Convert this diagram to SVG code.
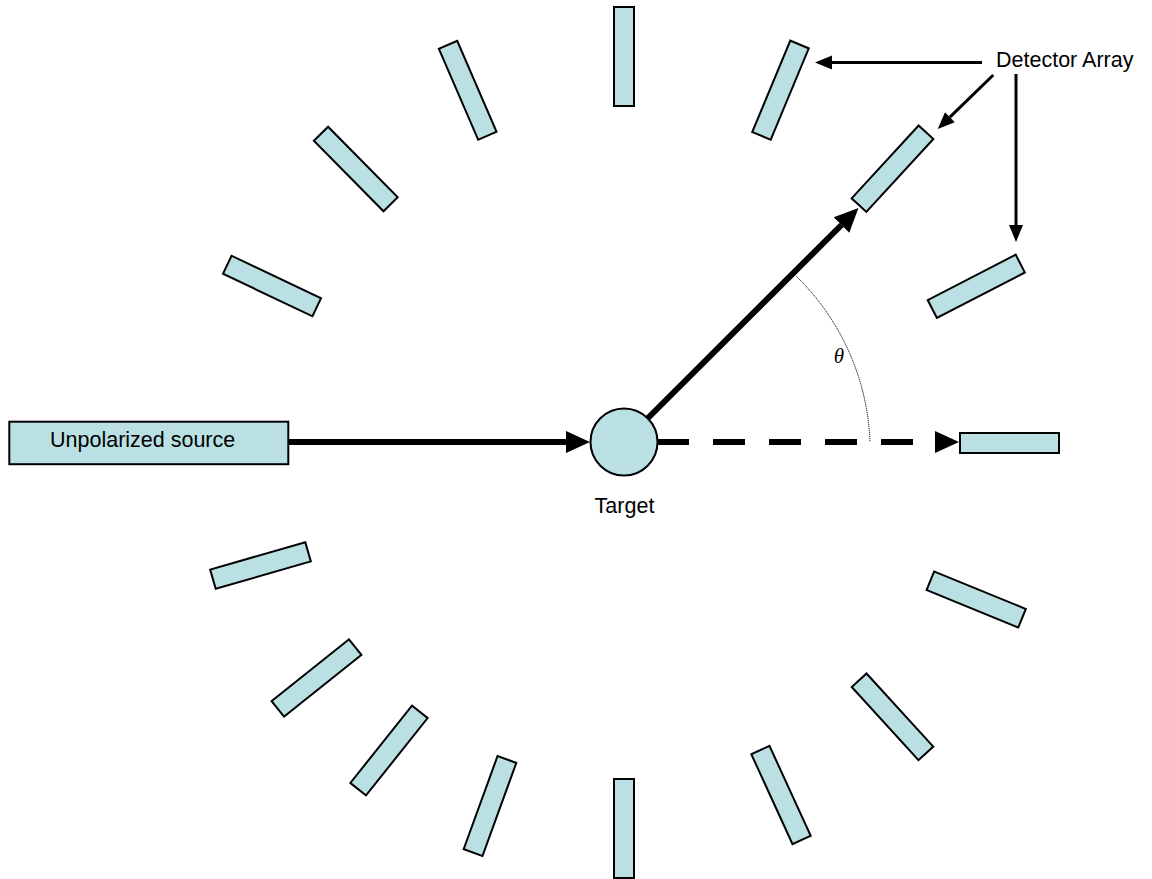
<svg xmlns="http://www.w3.org/2000/svg" width="1152" height="879" viewBox="0 0 1152 879">
<style>
.det{fill:#BAE0E3;stroke:#000;stroke-width:2}
.lbl{font-family:"Liberation Sans",Arial,sans-serif;font-size:21.5px;fill:#000}
.thick{stroke:#000;stroke-width:6;fill:none}
.thin{stroke:#000;stroke-width:3;fill:none}
</style>
<defs>
<marker id="bigHead" markerUnits="userSpaceOnUse" markerWidth="25" markerHeight="22" refX="0" refY="11" orient="auto" overflow="visible">
<path d="M0,0 L24,11 L0,22 z" fill="#000"/>
</marker>
<marker id="smallHead" markerUnits="userSpaceOnUse" markerWidth="17" markerHeight="14" refX="0" refY="7" orient="auto" overflow="visible">
<path d="M0,0 L17,7 L0,14 z" fill="#000"/>
</marker>
</defs>
<rect width="1152" height="879" fill="#fff"/>

<g id="detectors">
<g id="det-top" transform="translate(624,56.5) rotate(90)"><rect class="det" x="-49.5" y="-10" width="99" height="20"/></g>
<g id="det-bottom" transform="translate(624,828.5) rotate(90)"><rect class="det" x="-49.5" y="-10" width="99" height="20"/></g>
<g id="det-right" transform="translate(1009.5,443)"><rect class="det" x="-49.5" y="-10" width="99" height="20"/></g>
<g id="det-ur1" transform="translate(780.5,90.2) rotate(-67.4)"><rect class="det" x="-49.5" y="-10" width="99" height="20"/></g>
<g id="det-ur2" transform="translate(892.5,168.7) rotate(-47.4)"><rect class="det" x="-49.5" y="-10" width="99" height="20"/></g>
<g id="det-ur3" transform="translate(976.3,286.3) rotate(-27.3)"><rect class="det" x="-49.5" y="-10" width="99" height="20"/></g>
<g id="det-ul1" transform="translate(467.7,90.3) rotate(66.6)"><rect class="det" x="-49.5" y="-10" width="99" height="20"/></g>
<g id="det-ul2" transform="translate(355.8,169) rotate(45.3)"><rect class="det" x="-49.5" y="-10" width="99" height="20"/></g>
<g id="det-ul3" transform="translate(272,286) rotate(25.4)"><rect class="det" x="-49.5" y="-10" width="99" height="20"/></g>
<g id="det-ll1" transform="translate(260.5,565.5) rotate(-16.1)"><rect class="det" x="-49.5" y="-10" width="99" height="20"/></g>
<g id="det-ll2" transform="translate(316.5,678) rotate(-38.6)"><rect class="det" x="-49.5" y="-10" width="99" height="20"/></g>
<g id="det-ll3" transform="translate(389,750.5) rotate(-51.5)"><rect class="det" x="-49.5" y="-10" width="99" height="20"/></g>
<g id="det-ll4" transform="translate(490,806) rotate(-70)"><rect class="det" x="-49.5" y="-10" width="99" height="20"/></g>
<g id="det-lr1" transform="translate(781,795) rotate(65.4)"><rect class="det" x="-49.5" y="-10" width="99" height="20"/></g>
<g id="det-lr2" transform="translate(892.5,716.8) rotate(47.6)"><rect class="det" x="-49.5" y="-10" width="99" height="20"/></g>
<g id="det-lr3" transform="translate(976.2,599.5) rotate(22.2)"><rect class="det" x="-49.5" y="-10" width="99" height="20"/></g>
</g>

<g id="source">
<rect class="det" x="9.3" y="421.7" width="279" height="42.5"/>
<text class="lbl" x="50" y="446.5">Unpolarized source</text>
</g>

<g id="connectors">
<line class="thick" x1="289" y1="442" x2="566" y2="442" marker-end="url(#bigHead)"/>
<line class="thick" x1="657" y1="442" x2="935" y2="442" stroke-dasharray="32 24" marker-end="url(#bigHead)"/>
<line class="thick" x1="648" y1="418" x2="841.5" y2="225" marker-end="url(#bigHead)"/>
<path d="M796,276 A244,244 0 0 1 870,442" fill="none" stroke="#000" stroke-width="1" stroke-dasharray="1.2 0.8"/>
<line class="thin" x1="982" y1="62.5" x2="832" y2="62.5" marker-end="url(#smallHead)"/>
<line class="thin" x1="993.3" y1="75" x2="949.9" y2="117.2" marker-end="url(#smallHead)"/>
<line class="thin" x1="1016" y1="74" x2="1016" y2="225" marker-end="url(#smallHead)"/>
</g>

<g id="target">
<circle cx="624" cy="442" r="33.5" fill="#BAE0E3" stroke="#000" stroke-width="2"/>
<text class="lbl" x="624.5" y="513" text-anchor="middle">Target</text>
</g>

<g id="detector-label">
<text class="lbl" x="996" y="67">Detector Array</text>
</g>

<g id="theta-label">
<text x="839" y="363" text-anchor="middle" font-family="'Liberation Serif','Times New Roman',serif" font-style="italic" font-size="21">θ</text>
</g>
</svg>
